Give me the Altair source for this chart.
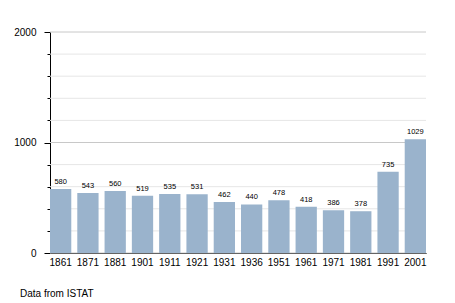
import altair as alt
import pandas as pd

years = ["1861", "1871", "1881", "1901", "1911", "1921", "1931", "1936",
         "1951", "1961", "1971", "1981", "1991", "2001"]
population = [580, 543, 560, 519, 535, 531, 462, 440, 478, 418, 386, 378, 735, 1029]
y_ticks = list(range(0, 2001, 200))

df = pd.DataFrame({"year": years, "pop": population})
grid_df = pd.DataFrame({"v": y_ticks, "major": [v % 1000 == 0 for v in y_ticks]})

FONT = "Liberation Sans"

x = alt.X("year:N", sort=years, title=None,
          scale=alt.Scale(paddingInner=0.22, paddingOuter=0),
          axis=alt.Axis(labelAngle=0, labelFontSize=10, labelColor="#000",
                        ticks=False, labelPadding=4, domainColor="#000",
                        labelFont=FONT))
y = alt.Y("pop:Q", title=None,
          scale=alt.Scale(domain=[0, 2000], nice=False),
          axis=alt.Axis(values=y_ticks, tickCount=len(y_ticks),
                        labelExpr="datum.value % 1000 === 0 ? datum.label : ''",
                        format="d",
                        labelOverlap=False,
                        labelFontSize=10, labelColor="#000", labelFont=FONT,
                        labelPadding=8,
                        domainColor="#000",
                        tickColor="#000",
                        tickSize={"condition": {"test": "datum.value % 1000 === 0", "value": 6}, "value": 3},
                        grid=False))

grid = alt.Chart(grid_df).mark_rule(strokeWidth=1).encode(
    y=alt.Y("v:Q", scale=alt.Scale(domain=[0, 2000], nice=False)),
    color=alt.Color("major:N", scale=alt.Scale(domain=[True, False], range=["#c8c8c8", "#e6e6e6"]),
                    legend=None),
)
bars = alt.Chart(df).mark_bar(color="#9ab3cc").encode(x=x, y=y)
labels = alt.Chart(df).mark_text(fontSize=7.5, font=FONT, color="#000",
                                 baseline="alphabetic", dy=-5).encode(
    x=alt.X("year:N", sort=years), y="pop:Q", text="pop:Q")

chart = alt.layer(grid, bars, labels).properties(
    width=376, height=221,
    title=alt.TitleParams("Data from ISTAT", orient="bottom", anchor="start",
                          frame="group",
                          fontSize=10, fontWeight="normal", font=FONT,
                          color="#000", dx=-30, offset=22),
    autosize=alt.AutoSizeParams(type="none"),
    padding={"left": 50, "top": 32, "right": 29, "bottom": 50},
).configure_view(stroke=None).configure_axisX(domainWidth=1)

chart.save("out.html", embed_options={"renderer": "svg", "actions": False})
